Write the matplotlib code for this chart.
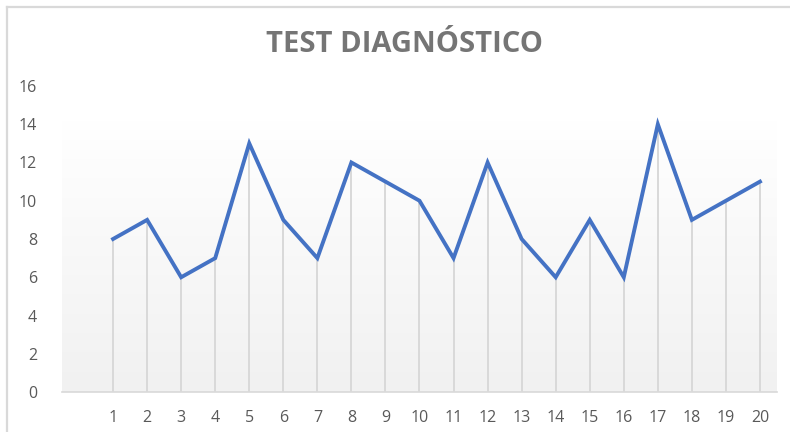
import numpy as np
import matplotlib.pyplot as plt
from matplotlib.lines import Line2D

# datos
categorias = [str(i) for i in range(1, 21)]
valores = [8, 9, 6, 7, 13, 9, 7, 12, 11, 10, 7, 12, 8, 6, 9, 6, 14, 9, 10, 11]
ticks_y = [0, 2, 4, 6, 8, 10, 12, 14, 16]

W, H = 790, 432
fig = plt.figure(figsize=(W / 100, H / 100), dpi=100)
fig.patch.set_facecolor("white")

# borde del gráfico (solo arriba e izquierda visibles)
fig.add_artist(Line2D([7 / W, 1], [1 - 7 / H, 1 - 7 / H], color="#d9d9d9", lw=1.6))
fig.add_artist(Line2D([7 / W, 7 / W], [0, 1 - 7 / H], color="#d9d9d9", lw=1.6))

ax = fig.add_axes([62 / W, 40 / H, 715 / W, 306 / H])
x = np.arange(1, len(valores) + 1)  # categoría vacía en la posición 0

# fondo con degradado
grad = np.linspace(0, 1, 256).reshape(-1, 1)
c_top = np.array([1.0, 1.0, 1.0])
c_bot = np.array([0.945, 0.945, 0.945])
img = c_top + (c_bot - c_top) * grad[:, :, None]
ax.imshow(img, extent=(-0.5, 20.55, 0, 14.17), aspect="auto", zorder=0,
          interpolation="bilinear")

# líneas de caída
ax.vlines(x, 0, valores, color="#d9d9d9", lw=1.4, zorder=1)
ax.plot(x, valores, color="#4472C4", lw=2.8, zorder=3, solid_joinstyle="miter")

ax.set_xlim(-0.5, 20.5)
ax.set_ylim(0, 16)
ax.set_xticks(x)
ax.set_xticklabels(categorias)
ax.set_yticks(ticks_y)

for s in ["top", "right", "left"]:
    ax.spines[s].set_visible(False)
ax.spines["bottom"].set_color("#d9d9d9")
ax.spines["bottom"].set_linewidth(1.2)
ax.set_facecolor("none")
ax.tick_params(length=0, colors="#595959", labelsize=11.5)
ax.tick_params(axis="y", pad=18)
ax.tick_params(axis="x", pad=13)
for lbl in ax.get_xticklabels() + ax.get_yticklabels():
    lbl.set_fontfamily("Open Sans")

fig.text(405 / W, 1 - 45 / H, "TEST DIAGNÓSTICO", ha="center", va="center",
         fontsize=21, fontweight="bold", color="#757575", family="Open Sans")

fig.savefig("out.png", dpi=100)
